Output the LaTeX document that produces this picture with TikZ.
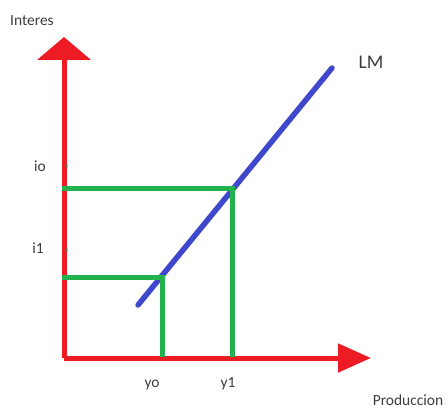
\documentclass[tikz,border=0pt]{standalone}
\usepackage{fontspec}
\setmainfont{Carlito}
\usepackage{xcolor}
\usetikzlibrary{arrows.meta, positioning}
\definecolor{axisred}{RGB}{237,28,36}
\definecolor{levelgreen}{RGB}{34,177,76}
\definecolor{lmblue}{RGB}{63,72,204}
\definecolor{labelgray}{RGB}{60,60,60}
\tikzset{
  axis/.style   = {draw=axisred, line width=0.1cm},
  level/.style  = {draw=levelgreen, line width=0.1cm},
  curve/.style  = {draw=lmblue, line width=0.11cm, line cap=round},
  lbl/.style    = {text=labelgray, font=\fontsize{8.8}{10}\selectfont, inner sep=0pt},
  yarr/.style   = {-{Triangle[width=1.06cm, length=0.46cm]}},
  xarr/.style   = {-{Triangle[width=0.56cm, length=0.66cm]}}
}

\begin{document}
\begin{tikzpicture}[x=0.02cm, y=-0.02cm]
  \useasboundingbox (0,0) rectangle (448,408);
  % axes
  \coordinate (orig) at (64,358);
  \coordinate (ytop) at (64,37);
  \coordinate (xend) at (371,358);
  \draw[axis, yarr] (orig) -- (ytop);
  \draw[axis, xarr] (orig) -- (xend);
  % LM curve
  \coordinate (lmlow) at (138,305);
  \coordinate (lmhigh) at (332,68);
  \draw[curve] (lmlow) -- (lmhigh);
  % levels
  \coordinate (ioaxis) at (62,188);
  \coordinate (ioy1) at (232,188);
  \coordinate (y1axis) at (232,357);
  \coordinate (i1axis) at (62,277);
  \coordinate (i1yo) at (162,277);
  \coordinate (yoaxis) at (162,357);
  \draw[level] (ioaxis) -- (ioy1) -- (y1axis);
  \draw[level] (i1axis) -- (i1yo) -- (yoaxis);
  % small marks on the axis
  \fill[levelgreen] (67,166) circle (1.2);
  \fill[levelgreen] (67,250) circle (1.2);
  % labels
  \node[lbl] (interes) at (32,21) {Interes};
  \node[lbl] (io) at (40,166) {io};
  \node[lbl] (i1) at (38,248) {i1};
  \node[lbl] (yo) at (152,385) {yo};
  \node[lbl] (y1) at (228,384) {y1};
  \node[lbl] (prod) at (408,400) {Produccion};
  \node[lbl, font=\fontsize{11}{13}\selectfont] (lm) at (371,62) {LM};
\end{tikzpicture}
\end{document}
